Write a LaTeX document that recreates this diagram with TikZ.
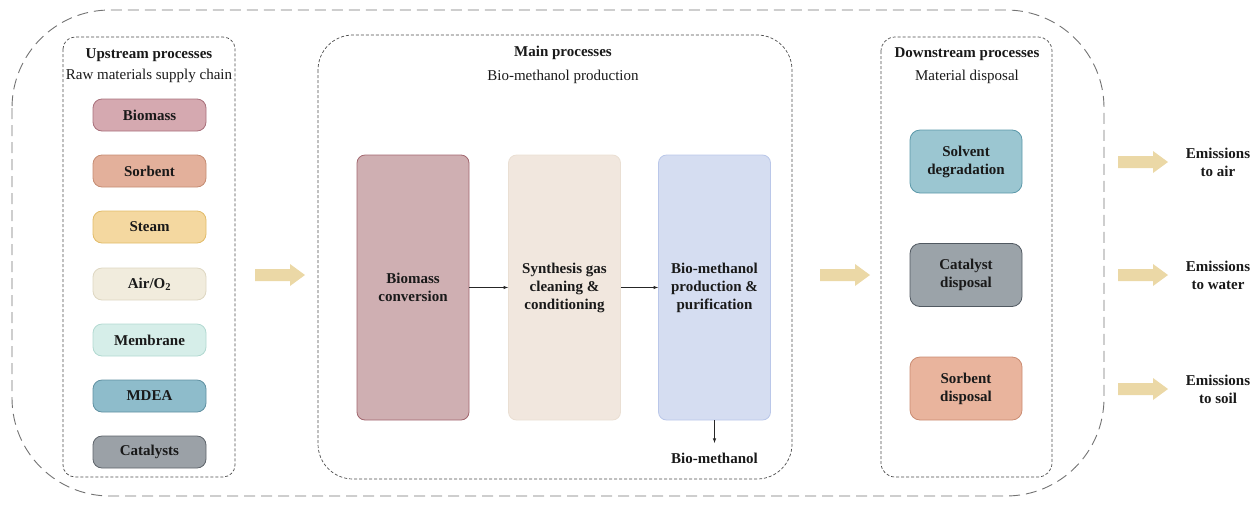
\documentclass[tikz,border=0pt]{standalone}
\usepackage{fontspec}
\setmainfont{Liberation Serif}
\definecolor{arrowc}{HTML}{EBD8A6}
\definecolor{cBioF}{HTML}{D5A9B0}\definecolor{cBioD}{HTML}{A8707B}
\definecolor{cSorF}{HTML}{E3B09B}\definecolor{cSorD}{HTML}{C58C73}
\definecolor{cStmF}{HTML}{F4D8A0}\definecolor{cStmD}{HTML}{E2BC6A}
\definecolor{cAirF}{HTML}{F1ECDD}\definecolor{cAirD}{HTML}{DED7C2}
\definecolor{cMemF}{HTML}{D6EEE9}\definecolor{cMemD}{HTML}{B2D9D1}
\definecolor{cMdeF}{HTML}{8EBCCB}\definecolor{cMdeD}{HTML}{5F90A1}
\definecolor{cCatF}{HTML}{9BA1A7}\definecolor{cCatD}{HTML}{5E646B}
\definecolor{cBcF}{HTML}{CFAFB2}\definecolor{cBcD}{HTML}{A2676F}
\definecolor{cSgF}{HTML}{F1E7DE}\definecolor{cSgD}{HTML}{EADFD3}
\definecolor{cBmF}{HTML}{D5DDF1}\definecolor{cBmD}{HTML}{BAC7E9}
\definecolor{cSvF}{HTML}{9BC6D1}\definecolor{cSvD}{HTML}{5B98A9}
\definecolor{cCdF}{HTML}{9BA3A9}\definecolor{cCdD}{HTML}{515961}
\definecolor{cSdF}{HTML}{E9B49D}\definecolor{cSdD}{HTML}{CA8C72}
\begin{document}
\begin{tikzpicture}[x=1pt,y=-1pt,
  every node/.style={text=black!90},
  outerbox/.style={draw=black!55, line width=0.9pt, dash pattern=on 11pt off 6pt, rounded corners=98pt},
  groupbox/.style={draw=black!70, line width=0.7pt, dash pattern=on 3pt off 2pt},
  pill/.style={draw, line width=0.8pt, rounded corners=9pt, minimum width=113pt, minimum height=32pt, font=\bfseries\fontsize{15}{18}\selectfont, inner sep=0pt},
  proc/.style={draw, line width=0.8pt, rounded corners=8pt, minimum width=112pt, minimum height=265pt, font=\bfseries\fontsize{15}{18}\selectfont, align=center, inner sep=0pt},
  disp/.style={draw, line width=0.8pt, rounded corners=10pt, minimum width=112pt, minimum height=63pt, font=\bfseries\fontsize{15}{18}\selectfont, align=center, inner sep=0pt},
  title/.style={font=\bfseries\fontsize{15}{18}\selectfont, inner sep=0pt},
  subtitle/.style={font=\fontsize{15}{18}\selectfont, inner sep=0pt},
  emis/.style={font=\bfseries\fontsize{15}{18}\selectfont, align=center, inner sep=0pt},
  thin/.style={-latex, line width=0.6pt, black!85},
  bigarrow/.style={fill=arrowc, draw=none}
]
\useasboundingbox (0,0) rectangle (1257,504);
% outer boundary
\draw[outerbox] (12,10) rectangle (1104,496);
% group boxes
\draw[groupbox, rounded corners=12pt] (63,37) rectangle (235,477);
\draw[groupbox, rounded corners=35pt] (318,35) rectangle (792,479);
\draw[groupbox, rounded corners=14pt] (881,37) rectangle (1052,477);
% titles
\node[title] (uptitle) at (149,55) {Upstream processes};
\node[subtitle] (upsub) at (149,76) {Raw materials supply chain};
\node[title] (maintitle) at (563,53) {Main processes};
\node[subtitle] (mainsub) at (563,77) {Bio-methanol production};
\node[title] (downtitle) at (967,54) {Downstream processes};
\node[subtitle] (downsub) at (967,77) {Material disposal};
% upstream pills
\node[pill, fill=cBioF, draw=cBioD] (biomass) at (149.5,115) {Biomass};
\node[pill, fill=cSorF, draw=cSorD] (sorbent) at (149.5,171) {Sorbent};
\node[pill, fill=cStmF, draw=cStmD] (steam) at (149.5,227) {Steam};
\node[pill, fill=cAirF, draw=cAirD] (air) at (149.5,284) {Air/O\textsubscript{2}};
\node[pill, fill=cMemF, draw=cMemD] (membrane) at (149.5,340) {Membrane};
\node[pill, fill=cMdeF, draw=cMdeD] (mdea) at (149.5,396) {MDEA};
\node[pill, fill=cCatF, draw=cCatD] (catalysts) at (149.5,452) {Catalysts};
% main processes
\node[proc, fill=cBcF, draw=cBcD] (bconv) at (413,287.5) {Biomass\\conversion};
\node[proc, fill=cSgF, draw=cSgD] (syngas) at (564.5,287.5) {Synthesis gas\\cleaning \&\\conditioning};
\node[proc, fill=cBmF, draw=cBmD] (bmeth) at (714.5,287.5) {Bio-methanol\\production \&\\purification};
\draw[thin] (bconv.east) -- (syngas.west);
\draw[thin] (syngas.east) -- (bmeth.west);
\node[title] (product) at (714.5,458) {Bio-methanol};
\coordinate (prodtop) at (714.5,443);
\draw[thin] (bmeth.south) -- (prodtop);
% downstream boxes
\node[disp, fill=cSvF, draw=cSvD] (solvent) at (966,161.5) {Solvent\\degradation};
\node[disp, fill=cCdF, draw=cCdD] (catdisp) at (966,275) {Catalyst\\disposal};
\node[disp, fill=cSdF, draw=cSdD] (sordisp) at (966,388.5) {Sorbent\\disposal};
% emissions
\node[emis] (eair) at (1218,162) {Emissions\\to air};
\node[emis] (ewater) at (1218,275) {Emissions\\to water};
\node[emis] (esoil) at (1218,389) {Emissions\\to soil};
% big arrows
\foreach \x/\y in {255/275, 820/275, 1118/162, 1118/275, 1118/389}{
  \fill[bigarrow] (\x,\y-6) -- (\x+35,\y-6) -- (\x+35,\y-11) -- (\x+50,\y) -- (\x+35,\y+11) -- (\x+35,\y+6) -- (\x,\y+6) -- cycle;
}
\end{tikzpicture}
\end{document}
